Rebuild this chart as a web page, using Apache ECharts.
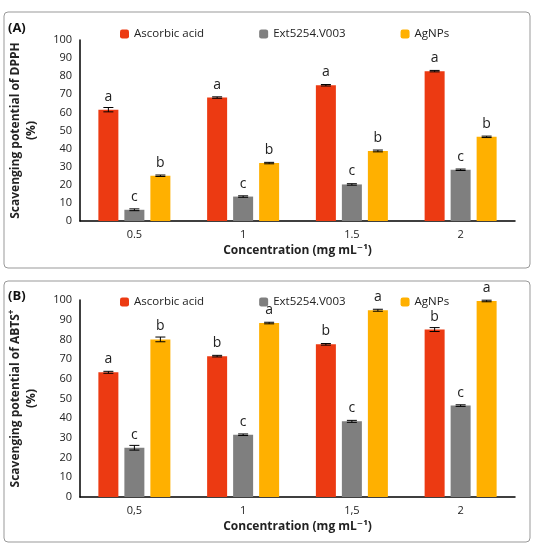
<!DOCTYPE html>
<html><head><meta charset="utf-8">
<script src="https://cdn.jsdelivr.net/npm/echarts@6/dist/echarts.min.js"></script>
<style>body{margin:0;background:#fff}#c{width:535px;height:547px}</style>
</head><body><div id="c"></div>
<script>
const seriesNames = ['Ascorbic acid', 'Ext5254.V003', 'AgNPs'];
const colors = ['#ec3a12', '#7f7f7f', '#ffb000'];
const catsA = ['0.5', '1', '1.5', '2'];
const catsB = ['0,5', '1', '1,5', '2'];
const dpphAsc = [61.5, 68.2, 75, 82.8];
const dpphExt = [6.2, 13.5, 20.2, 28.3];
const dpphAg = [25, 32, 38.7, 46.5];
const dpphErr = [[1.2, 0.4, 0.4, 0.4], [0.5, 0.4, 0.4, 0.4], [0.4, 0.4, 0.5, 0.4]];
const dpphLetters = [['a', 'a', 'a', 'a'], ['c', 'c', 'c', 'c'], ['b', 'b', 'b', 'b']];
const abtsAsc = [63.3, 71.5, 77.5, 85];
const abtsExt = [25, 31.6, 38.4, 46.4];
const abtsAg = [80, 88.3, 94.8, 99.5];
const abtsErr = [[0.5, 0.4, 0.4, 1], [1.2, 0.4, 0.5, 0.4], [1.2, 0.4, 0.5, 0.4]];
const abtsLetters = [['a', 'b', 'b', 'b'], ['c', 'c', 'c', 'c'], ['b', 'a', 'a', 'a']];

const font = 'Open Sans, DejaVu Sans, sans-serif';
const grids = [
  {left: 78, right: 20, top: 40, height: 181},
  {left: 78, right: 20, top: 300, height: 197}
];

function yAxis(idx, name) {
  return {gridIndex: idx, min: 0, max: 100, interval: 10, name: name, nameLocation: 'middle',
    nameGap: 40, nameTextStyle: {fontSize: 12, fontWeight: 'bold', color: '#222', fontFamily: font, lineHeight: 16,
      rich: {a: {fontSize: 12, fontWeight: 'bold', color: '#222', fontFamily: font, lineHeight: 16},
             s: {fontSize: 8, fontWeight: 'bold', color: '#222', fontFamily: font, verticalAlign: 'top', lineHeight: 16}}},
    axisLine: {show: true, lineStyle: {color: '#000', width: 1.5}}, axisTick: {show: false},
    splitLine: {show: false}, axisLabel: {color: '#222', fontSize: 11, fontFamily: font}};
}
function xAxis(idx, cats) {
  return {gridIndex: idx, type: 'category', data: cats, name: 'Concentration (mg mL⁻¹)',
    nameLocation: 'middle', nameGap: 24,
    nameTextStyle: {fontSize: 12, fontWeight: 'bold', color: '#222', fontFamily: font},
    axisLine: {lineStyle: {color: '#000', width: 1.5}}, axisTick: {show: false},
    axisLabel: {color: '#222', fontSize: 11, fontFamily: font}};
}

const series = [];
function addPanel(idx, vals, errs, letters) {
  vals.forEach((v, s) => {
    series.push({type: 'bar', name: seriesNames[s], xAxisIndex: idx, yAxisIndex: idx,
      data: v, barWidth: 20, barGap: '30%', itemStyle: {color: colors[s]}, z: 2,
      label: {show: true, position: 'top', distance: 6, color: '#222', fontSize: 14, fontFamily: font,
        formatter: p => letters[s][p.dataIndex]}});
    series.push({type: 'custom', xAxisIndex: idx, yAxisIndex: idx, z: 3, silent: true,
      data: v.map((y, i) => [i, y, errs[s][i]]),
      renderItem: (params, api) => {
        const i = api.value(0), y = api.value(1), e = api.value(2);
        const c = api.coord([i, y]);
        const x = c[0] + (s - 1) * 26;
        const top = api.coord([i, y + e])[1], bot = api.coord([i, y - e])[1];
        const st = {stroke: '#000', lineWidth: 1};
        return {type: 'group', children: [
          {type: 'line', shape: {x1: x, y1: top, x2: x, y2: bot}, style: st},
          {type: 'line', shape: {x1: x - 5, y1: top, x2: x + 5, y2: top}, style: st},
          {type: 'line', shape: {x1: x - 5, y1: bot, x2: x + 5, y2: bot}, style: st}
        ]};
      }});
  });
}
addPanel(0, [dpphAsc, dpphExt, dpphAg], dpphErr, dpphLetters);
addPanel(1, [abtsAsc, abtsExt, abtsAg], abtsErr, abtsLetters);

function legend(top) {
  return {top: top, left: 115, itemWidth: 9, itemHeight: 9, itemGap: 55,
    data: seriesNames.map((n, i) => ({name: n, itemStyle: {color: colors[i]}})),
    textStyle: {fontSize: 11.5, color: '#222', fontFamily: font}};
}

const chart = echarts.init(document.getElementById('c'));
chart.setOption({
  animation: false,
  grid: grids,
  legend: [legend(23), legend(291)],
  xAxis: [xAxis(0, catsA), xAxis(1, catsB)],
  yAxis: [yAxis(0, 'Scavenging potential of DPPH\n(%)'),
          yAxis(1, '{a|Scavenging potential of ABTS}{s|+}\n{a|(%)}')],
  series: series,
  graphic: [
    {type: 'rect', shape: {x: 4, y: 12, width: 526, height: 256, r: 4}, style: {fill: 'none', stroke: '#999', lineWidth: 1}},
    {type: 'rect', shape: {x: 4, y: 281, width: 526, height: 261, r: 4}, style: {fill: 'none', stroke: '#999', lineWidth: 1}},
    {type: 'text', left: 8, top: 22, style: {text: '(A)', fontSize: 13, fontWeight: 'bold', fill: '#111', fontFamily: font}},
    {type: 'text', left: 8, top: 290, style: {text: '(B)', fontSize: 13, fontWeight: 'bold', fill: '#111', fontFamily: font}}
  ]
});
</script></body></html>
